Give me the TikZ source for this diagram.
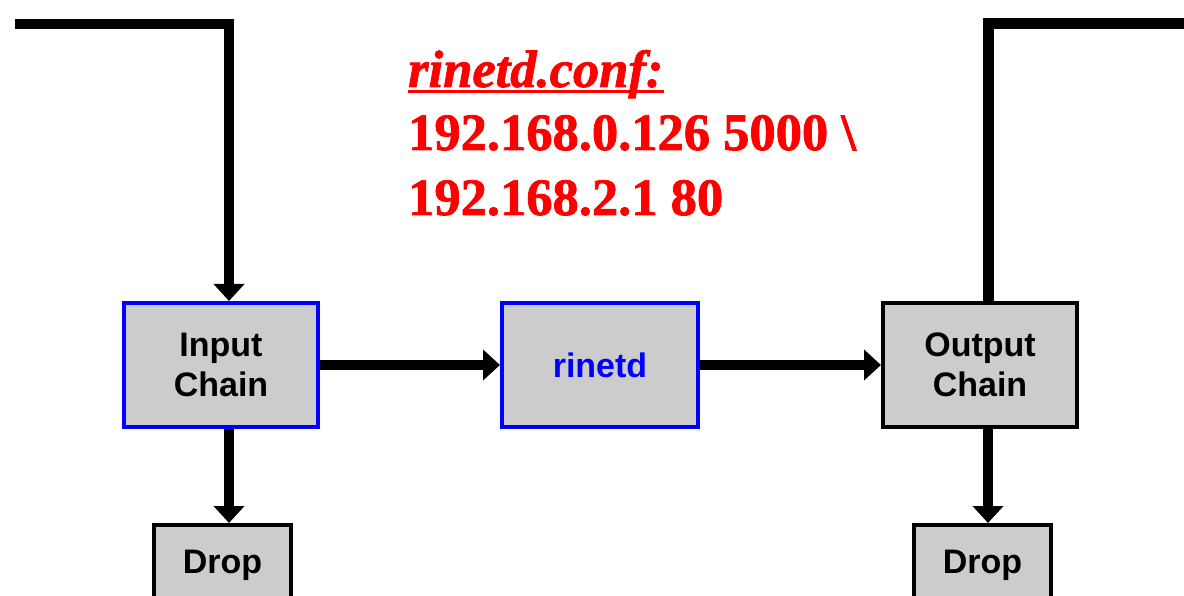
\documentclass[tikz,border=0pt]{standalone}
\usepackage{fontspec}
\setmainfont{Liberation Serif}
\setsansfont{Liberation Sans}
\newfontfamily\redbold{Liberation Serif Bold}[FakeBold=1.5]
\newfontfamily\redbolditalic{Liberation Serif Bold Italic}[FakeBold=1.5]
\usetikzlibrary{arrows.meta}
\definecolor{boxgray}{HTML}{CCCCCC}
\definecolor{pureblue}{HTML}{0000FF}
\definecolor{purered}{HTML}{FF0000}
\begin{document}
\begin{tikzpicture}[x=1pt,y=-1pt,
  boxfont/.style={font=\sffamily\bfseries\fontsize{34}{40}\selectfont},
  chainbox/.style={draw=black, fill=boxgray, line width=4pt, minimum width=194pt,
    minimum height=124pt, align=center, inner sep=0pt, boxfont},
  bluebox/.style={chainbox, draw=pureblue},
  dropbox/.style={draw=black, fill=boxgray, line width=4pt, minimum width=137pt,
    text height=25pt, text depth=70pt, inner ysep=23pt, inner xsep=0pt, anchor=north, boxfont},
  flow/.style={line width=10pt, -{Triangle[width=30pt,length=17pt]}},
  wire/.style={line width=11pt},
  conftext/.style={text=purered, font=\redbold\fontsize{52.5}{64}\selectfont,
    anchor=base west, inner sep=0pt}
]
\path[use as bounding box] (0,0) rectangle (1184,596);
\clip (0,0) rectangle (1184,596);

% boxes
\node[bluebox] (input) at (221,365) {Input\\Chain};
\node[bluebox, text=pureblue, minimum width=196pt] (rinetd) at (600,365) {rinetd};
\node[chainbox] (output) at (980,365) {Output\\Chain};
\node[dropbox] (dropL) at (222.5,523) {Drop};
\node[dropbox] (dropR) at (982.5,523) {Drop};

% coordinates
\coordinate (inStart) at (15,24);
\coordinate (inCorner) at (229,24);
\coordinate (outCorner) at (988,24);
\coordinate (outEnd) at (1195,24);

% connectors
\draw[flow] (inStart) -- (inCorner) -- (inCorner |- input.north);
\draw[flow] (input.east) -- (rinetd.west);
\draw[flow] (rinetd.east) -- (output.west);
\draw[flow] (inCorner |- input.south) -- (inCorner |- dropL.north);
\draw[flow] (outCorner |- output.south) -- (outCorner |- dropR.north);
\draw[wire] (outCorner |- output.north) -- (outCorner) -- (outEnd);

% config text
\node[conftext, font=\redbolditalic\fontsize{52.5}{64}\selectfont] (conf) at (408,87) {rinetd.conf:};
\draw[purered, line width=3pt] ([yshift=-5pt]conf.base west) -- ([yshift=-5pt]conf.base east);
\node[conftext] (ipa) at (408,150) {192.168.0.126 5000 \textbackslash};
\node[conftext] (ipb) at (408,215) {192.168.2.1 80};
\end{tikzpicture}
\end{document}
